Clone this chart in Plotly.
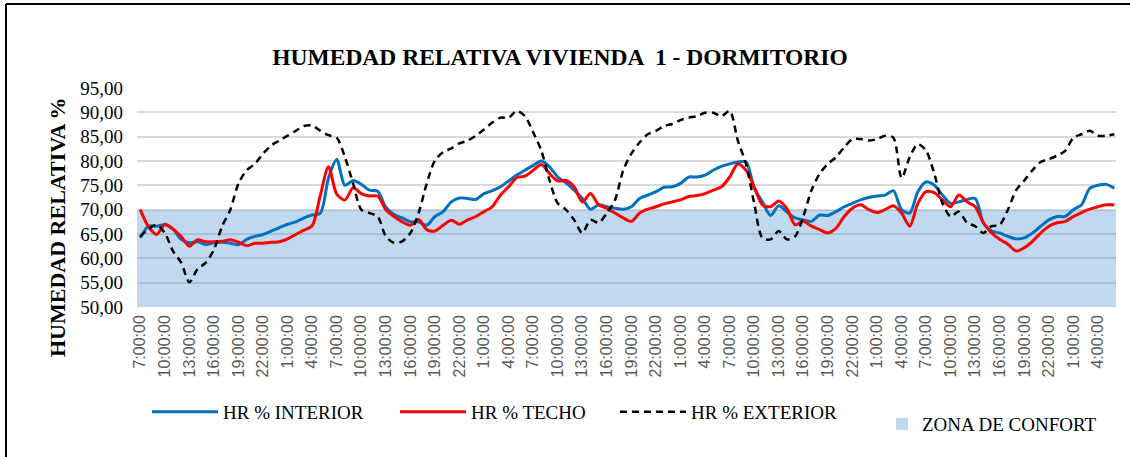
'''
    Humedad relativa - vivienda 1, dormitorio: interior, techo, exterior y zona de confort.
'''
import plotly.graph_objects as go

# horas (registro horario, 5 dias desde las 7:00)
HORAS = [f"{(7 + i) % 24}:00:00" for i in range(120)]

HR_INTERIOR = [
    64.2, 66.6, 66.6, 66.9, 66.0, 63.9, 63.2, 63.4, 62.8, 63.2,
    63.3, 63.1, 62.8, 63.9, 64.5, 64.9, 65.6, 66.3, 67.0, 67.5,
    68.3, 68.9, 69.3, 76.5, 80.3, 75.0, 76.0, 75.2, 74.0, 73.8,
    70.5, 69.0, 68.3, 67.5, 67.5, 66.8, 68.6, 69.6, 71.6, 72.4,
    72.3, 72.1, 73.3, 73.9, 74.7, 75.9, 77.1, 78.1, 79.1, 80.0,
    78.8, 76.7, 75.5, 74.0, 72.3, 70.1, 71.0, 70.6, 70.3, 70.1,
    70.6, 72.3, 73.0, 73.7, 74.6, 74.7, 75.4, 76.7, 76.7, 77.1,
    78.1, 78.9, 79.4, 79.8, 79.8, 74.5, 71.6, 68.8, 70.8, 69.5,
    68.3, 67.9, 67.6, 68.9, 68.8, 69.6, 70.6, 71.3, 72.0, 72.5,
    72.8, 73.0, 73.9, 70.0, 69.3, 73.7, 75.7, 75.0, 73.0, 71.3,
    71.6, 72.1, 72.3, 67.3, 65.6, 65.2, 64.5, 64.0, 64.2, 65.2,
    66.6, 67.9, 68.6, 68.6, 70.0, 71.0, 74.4, 75.0, 75.2, 74.4,
]

HR_TECHO = [
    70.0, 66.5, 64.9, 67.0, 66.0, 64.5, 62.5, 63.8, 63.4, 63.4,
    63.5, 63.8, 63.3, 62.6, 63.1, 63.1, 63.3, 63.4, 64.0, 64.9,
    65.8, 66.7, 73.0, 78.8, 73.2, 72.0, 74.5, 73.3, 72.8, 72.8,
    70.0, 68.6, 67.5, 66.8, 68.0, 65.9, 65.6, 66.8, 67.8, 67.0,
    67.9, 68.6, 69.6, 70.6, 73.0, 74.7, 76.6, 76.9, 78.1, 79.3,
    77.4, 75.9, 76.0, 74.7, 71.6, 73.3, 71.0, 70.3, 69.3, 68.3,
    67.6, 69.3, 70.1, 70.6, 71.2, 71.6, 72.0, 72.7, 72.9, 73.3,
    74.0, 74.7, 76.7, 79.4, 78.1, 74.7, 71.0, 70.6, 71.8, 70.2,
    66.9, 67.6, 66.6, 65.9, 65.2, 66.2, 68.6, 70.3, 71.0, 70.0,
    69.4, 70.0, 70.8, 69.3, 66.6, 71.3, 73.7, 73.5, 72.0, 70.6,
    73.0, 71.6, 70.6, 67.3, 65.2, 63.9, 62.9, 61.5, 62.2, 63.5,
    65.2, 66.6, 67.3, 67.6, 68.6, 69.4, 70.1, 70.6, 71.0, 71.0,
]

HR_EXTERIOR = [
    64.5, 66.0, 66.9, 65.2, 61.5, 59.1, 55.1, 57.8, 59.1, 61.8,
    66.6, 70.0, 75.4, 78.1, 79.4, 81.5, 83.2, 84.2, 85.2, 86.2,
    87.2, 87.3, 86.2, 85.3, 84.8, 80.8, 75.4, 70.0, 69.3, 68.6,
    64.5, 63.2, 63.5, 65.2, 69.3, 75.4, 80.1, 81.8, 82.6, 83.6,
    84.2, 85.2, 86.5, 87.9, 88.9, 88.9, 90.3, 89.2, 85.9, 82.1,
    76.0, 71.3, 70.0, 67.9, 65.2, 67.9, 67.3, 69.3, 72.0, 78.1,
    81.5, 83.8, 85.5, 86.2, 87.2, 87.6, 88.4, 88.9, 89.2, 89.9,
    89.9, 89.2, 90.3, 84.2, 79.4, 71.3, 64.2, 63.9, 65.6, 63.9,
    64.5, 68.6, 74.0, 77.4, 79.4, 80.8, 82.8, 84.5, 84.5, 84.2,
    84.5, 85.2, 84.8, 76.5, 80.8, 83.5, 82.1, 77.4, 71.3, 68.6,
    69.6, 67.3, 66.6, 65.2, 66.6, 66.9, 70.0, 74.0, 76.0, 78.1,
    79.8, 80.4, 81.1, 82.1, 84.8, 85.5, 86.2, 85.2, 85.2, 85.5,
]

# zona de confort (HR %)
CONFORT_MIN = 50
CONFORT_MAX = 70

SERIF = "Liberation Serif, Times New Roman, serif"

W, H = 1130, 457
L, R, T, B = 137, 14, 88, 150
PW, PH = W - L - R, H - T - B


def px_x(x):
    # pixel -> paper
    return (x - L) / PW


def px_y(y):
    return (H - B - y) / PH


idx = list(range(len(HORAS)))

fig = go.Figure()

# zona de confort como barras contiguas entre el minimo y el maximo
fig.add_trace(go.Bar(
    x=idx, y=[CONFORT_MAX - CONFORT_MIN] * len(idx), base=CONFORT_MIN,
    width=1, name='ZONA DE CONFORT', legend='legend2',
    marker=dict(color='rgba(91,155,213,0.38)', line=dict(width=0)),
    hoverinfo='skip'))

fig.add_trace(go.Scatter(x=idx, y=HR_INTERIOR, name='HR % INTERIOR', mode='lines', legendwidth=167,
                         line=dict(color='#0070C0', width=3, shape='spline', smoothing=0.8)))
fig.add_trace(go.Scatter(x=idx, y=HR_TECHO, name='HR % TECHO', mode='lines', legendwidth=139,
                         line=dict(color='#FF0000', width=3, shape='spline', smoothing=0.8)))
fig.add_trace(go.Scatter(x=idx, y=HR_EXTERIOR, name='HR % EXTERIOR', mode='lines', legendwidth=160,
                         line=dict(color='#000000', width=2.5, dash='7px,5px',
                                   shape='spline', smoothing=0.8)))

fig.update_layout(
    width=W, height=H,
    margin=dict(l=L, r=R, t=T, b=B, autoexpand=False),
    paper_bgcolor='white', plot_bgcolor='white',
    separators=',.',
    bargap=0,
    title=dict(text='HUMEDAD RELATIVA VIVIENDA  1 - DORMITORIO',
               font=dict(family=SERIF, size=23.5, color='black', weight='bold'),
               x=560 / W, xref='container', xanchor='center',
               y=1 - 57 / H, yref='container', yanchor='middle'),
    legend=dict(orientation='h', xref='container', yref='container',
                x=147 / W, xanchor='left', y=1 - 412 / H, yanchor='middle',
                font=dict(family=SERIF, size=19, color='black'),
                itemwidth=66, entrywidthmode='pixels',
                bgcolor='rgba(0,0,0,0)'),
    legend2=dict(orientation='h', xref='container', yref='container',
                 x=882 / W, xanchor='left', y=1 - 424 / H, yanchor='middle',
                 font=dict(family=SERIF, size=19, color='black'),
                 itemwidth=30, bgcolor='rgba(0,0,0,0)'),
    showlegend=True,
)

fig.update_yaxes(
    range=[50, 95], dtick=5, tickformat='.2f', automargin=False,
    showgrid=True, gridcolor='#d9d9d9', gridwidth=2,
    zeroline=False, showline=False, ticks='',
    ticklabelstandoff=13,
    tickfont=dict(family=SERIF, size=19, color='black'),
)

fig.update_xaxes(
    range=[-0.4, 119.2], automargin=False,
    tickmode='array', tickvals=idx[::3], ticktext=HORAS[::3],
    tickangle=-90, showgrid=False, zeroline=False, showline=False, ticks='',
    ticklabelstandoff=4,
    tickfont=dict(family='Liberation Sans, Arial, sans-serif', size=16, color='#595959'),
)

# titulo del eje vertical
fig.add_annotation(
    text='HUMEDAD RELATIVA %', textangle=-90, showarrow=False,
    xref='paper', yref='paper', x=px_x(57), y=px_y(227),
    xanchor='center', yanchor='middle',
    font=dict(family=SERIF, size=22, color='black', weight='bold'))

# marco del grafico
fig.add_shape(type='line', xref='paper', yref='paper',
              x0=px_x(6), x1=px_x(W), y0=px_y(4), y1=px_y(4),
              line=dict(color='black', width=2))
fig.add_shape(type='line', xref='paper', yref='paper',
              x0=px_x(6), x1=px_x(6), y0=px_y(4), y1=px_y(H),
              line=dict(color='black', width=2))

fig.write_html("out.html", config={'displayModeBar': False},
               post_script="document.body.style.margin='0px';")
